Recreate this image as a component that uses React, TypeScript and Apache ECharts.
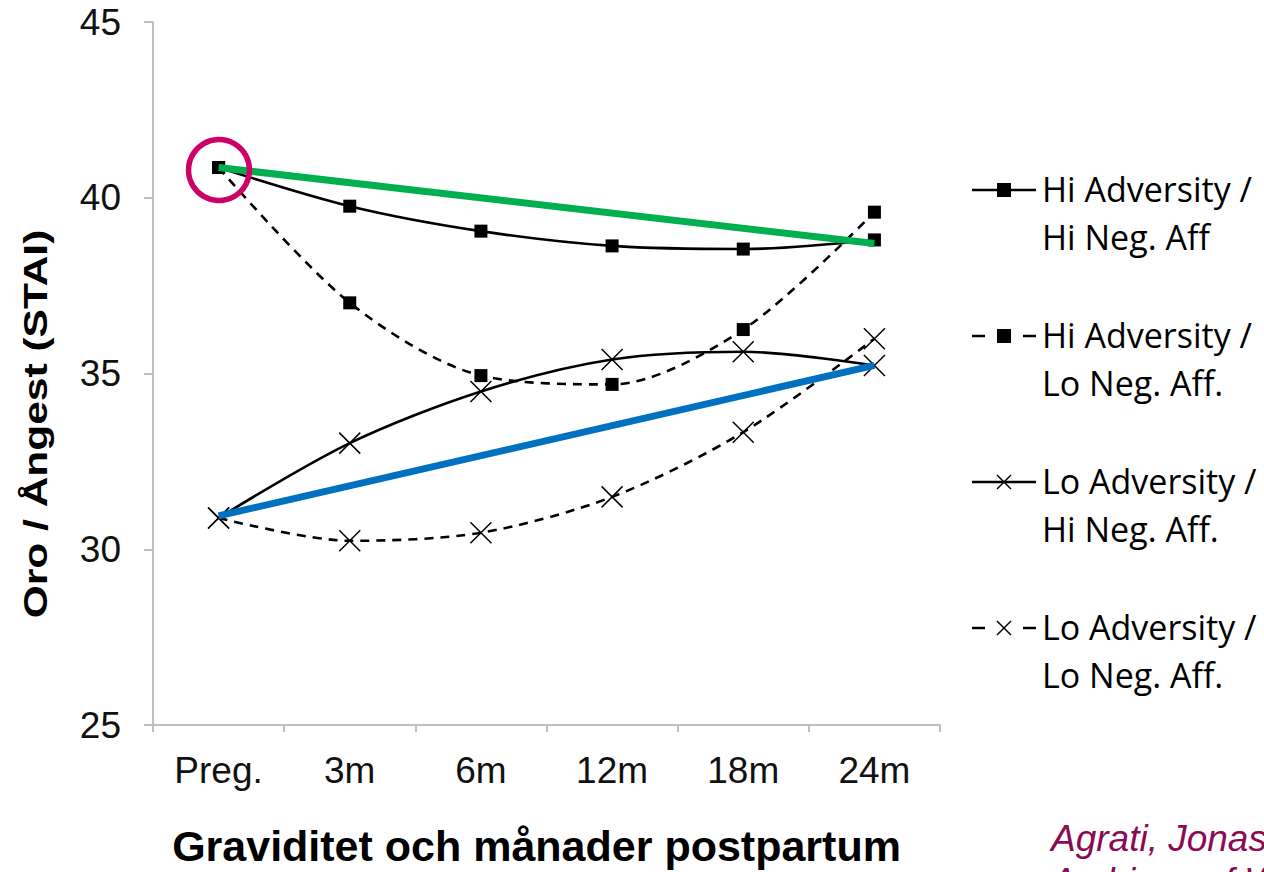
import React, { useEffect, useRef } from "react";
import * as echarts from "echarts";

const categories = ["Preg.", "3m", "6m", "12m", "18m", "24m"];
const hiAdvHiNeg = [40.86, 39.76, 39.05, 38.63, 38.54, 38.8];
const hiAdvLoNeg = [40.86, 37.01, 34.94, 34.69, 36.25, 39.59];
const loAdvHiNeg = [30.89, 33.02, 34.49, 35.4, 35.62, 35.23];
const loAdvLoNeg = [30.89, 30.24, 30.47, 31.49, 33.33, 35.99];
const greenTrend = [40.86, null, null, null, null, 38.7];
const blueTrend = [30.95, null, null, null, null, 35.23];
const legendLines = [
  ["Hi Adversity /", "Hi Neg. Aff"],
  ["Hi Adversity /", "Lo Neg. Aff."],
  ["Lo Adversity /", "Hi Neg. Aff."],
  ["Lo Adversity /", "Lo Neg. Aff."],
];
const yTitle = "Oro / Ångest (STAI)";
const xTitle = "Graviditet och månader postpartum";
const sourceText = "Agrati, Jonas et al.\nArchives of Women's Mental Health";

const CROSS = "path://M0,0L10,10M10,0L0,10";

export default function App() {
  const ref = useRef<HTMLDivElement>(null);
  useEffect(() => {
    const chart = echarts.init(ref.current!, null, { renderer: "svg" });
    const dataSeries = (name: string, data: number[], dashed: boolean, cross: boolean) => ({
      name,
      type: "line",
      data,
      smooth: 0.3,
      symbol: cross ? CROSS : "rect",
      symbolSize: cross ? 21 : 13,
      z: 3,
      lineStyle: { color: "#000", width: 2.6, type: dashed ? [9, 7] : "solid" },
      itemStyle: cross
        ? { color: "transparent", borderColor: "#000", borderWidth: 1.5 }
        : { color: "#000", borderWidth: 0 },
    });
    const trend = (data: (number | null)[], color: string) => ({
      type: "line",
      data,
      connectNulls: true,
      symbol: "none",
      z: 4,
      lineStyle: { color, width: 7 },
      silent: true,
    });

    const lx = 972;
    const legendGraphics: any[] = [];
    legendLines.forEach((lines, i) => {
      const y = 190 + i * 146;
      const dashed = i % 2 === 1;
      const cross = i >= 2;
      if (dashed) {
        legendGraphics.push({ type: "line", shape: { x1: lx, y1: y, x2: lx + 13, y2: y }, style: { stroke: "#000", lineWidth: 2.5 } });
        legendGraphics.push({ type: "line", shape: { x1: lx + 51, y1: y, x2: lx + 64, y2: y }, style: { stroke: "#000", lineWidth: 2.5 } });
      } else {
        legendGraphics.push({ type: "line", shape: { x1: lx, y1: y, x2: lx + 64, y2: y }, style: { stroke: "#000", lineWidth: 2.5 } });
      }
      if (cross) {
        legendGraphics.push({ type: "line", shape: { x1: lx + 25, y1: y - 7, x2: lx + 39, y2: y + 7 }, style: { stroke: "#000", lineWidth: 1.5 } });
        legendGraphics.push({ type: "line", shape: { x1: lx + 39, y1: y - 7, x2: lx + 25, y2: y + 7 }, style: { stroke: "#000", lineWidth: 1.5 } });
      } else {
        legendGraphics.push({ type: "rect", shape: { x: lx + 25, y: y - 7, width: 14, height: 14 }, style: { fill: "#000" } });
      }
      legendGraphics.push({
        type: "text",
        x: lx + 70,
        y: y - 25,
        style: {
          text: lines[0] + "\n" + lines[1],
          font: '34px "Open Sans", "Noto Sans", sans-serif',
          lineHeight: 48,
          fill: "#000",
          verticalAlign: "top",
        },
      });
    });

    chart.setOption({
      animation: false,
      grid: { left: 153, right: 324, top: 22, bottom: 144 },
      xAxis: {
        type: "category",
        data: categories,
        boundaryGap: true,
        axisLine: { lineStyle: { color: "#BFBFBF", width: 2 } },
        axisTick: { show: true, length: 7, lineStyle: { color: "#BFBFBF", width: 2 } },
        axisLabel: { color: "#111", fontSize: 37, fontFamily: "Liberation Sans, Arial, sans-serif", margin: 27 },
        name: xTitle,
        nameLocation: "middle",
        nameGap: 99,
        nameTextStyle: {
          color: "#000",
          fontSize: 43,
          fontWeight: "bold",
          fontFamily: "Liberation Sans, Arial, sans-serif",
          padding: [0, 20, 0, 0],
        },
      },
      yAxis: {
        type: "value",
        min: 25,
        max: 45,
        interval: 5,
        splitLine: { show: false },
        axisLine: { show: true, lineStyle: { color: "#BFBFBF", width: 2 } },
        axisTick: { show: true, length: 9, lineStyle: { color: "#BFBFBF", width: 2 } },
        axisLabel: { color: "#111", fontSize: 37, fontFamily: "Liberation Sans, Arial, sans-serif", margin: 32 },
      },
      series: [
        dataSeries("Hi Adversity / Hi Neg. Aff", hiAdvHiNeg, false, false),
        dataSeries("Hi Adversity / Lo Neg. Aff.", hiAdvLoNeg, true, false),
        dataSeries("Lo Adversity / Hi Neg. Aff.", loAdvHiNeg, false, true),
        dataSeries("Lo Adversity / Lo Neg. Aff.", loAdvLoNeg, true, true),
        trend(greenTrend, "#00B050"),
        trend(blueTrend, "#0070C0"),
      ],
      graphic: [
        ...legendGraphics,
        {
          type: "text",
          x: 35,
          y: 424,
          rotation: Math.PI / 2,
          scaleX: 1.25,
          style: {
            text: yTitle,
            font: 'bold 34px "Liberation Sans", Arial, sans-serif',
            fill: "#000",
            align: "center",
            verticalAlign: "middle",
          },
        },
        {
          type: "circle",
          shape: { cx: 219, cy: 170, r: 30.5 },
          style: { fill: "none", stroke: "#CC0066", lineWidth: 5.5 },
          z: 10,
        },
        {
          type: "text",
          x: 1051,
          y: 817,
          style: {
            text: sourceText,
            font: 'italic 37px "Liberation Sans", Arial, sans-serif',
            lineHeight: 43,
            fill: "#8B0A55",
          },
        },
      ],
    });
    return () => chart.dispose();
  }, []);
  return <div ref={ref} style={{ width: 1264, height: 872, position: "absolute", left: 0, top: 0 }} />;
}
